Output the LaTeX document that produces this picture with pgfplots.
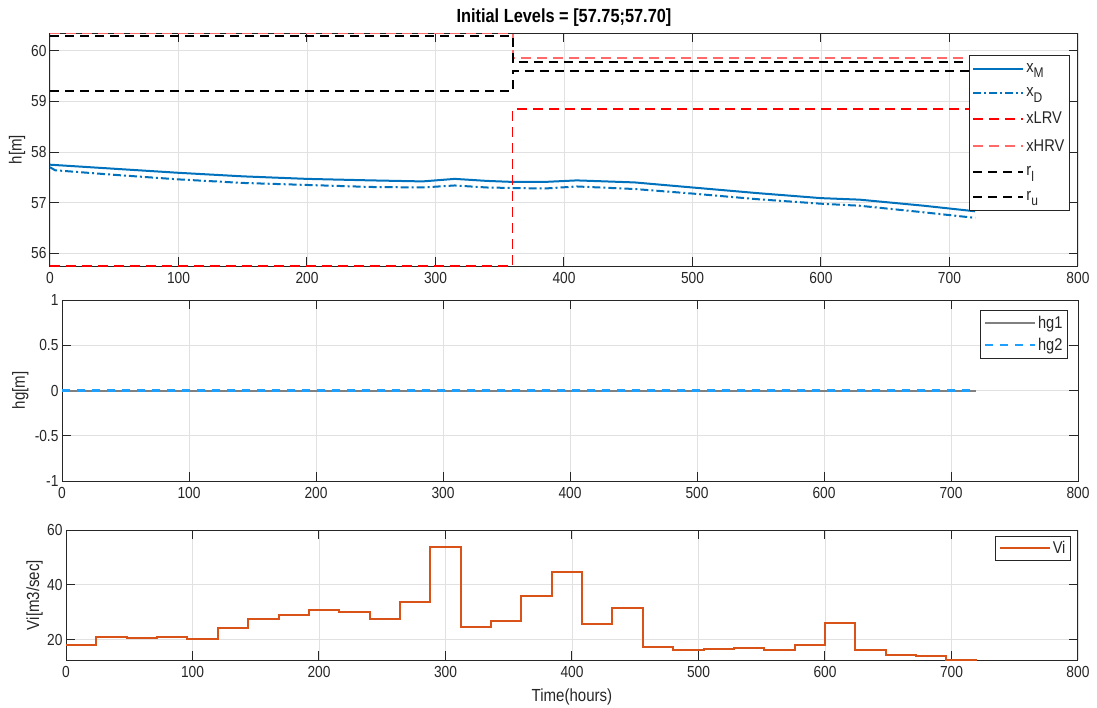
\documentclass[border=0pt]{standalone}
\usepackage{fontspec}
\setmainfont{Liberation Sans}[FakeStretch=0.86]
\usepackage{pgfplots}
\pgfplotsset{compat=1.18}
\definecolor{mblue}{RGB}{0,114,189}
\definecolor{lred}{RGB}{255,105,105}
\definecolor{hgblue}{RGB}{30,160,255}
\definecolor{vio}{RGB}{217,83,25}
\definecolor{gridc}{RGB}{225,225,225}
\definecolor{framec}{RGB}{38,38,38}
\pgfplotsset{
 mstyle/.style={
  scale only axis, anchor=north west,
  xmin=0,xmax=800, xtick={0,100,...,800},
  grid=major, major grid style={gridc, line width=0.8pt},
  axis line style={framec, line width=1pt},
  tick style={framec, line width=1pt},
  major tick length=9pt,
  tick align=inside,
  /pgf/number format/assume math mode=true,
  ticklabel style={font=\fontsize{16}{18}\selectfont, text=black!85},
  xticklabel style={yshift=-3pt},
  label style={font=\fontsize{17.5}{20}\selectfont, text=black!85},
  legend style={draw=framec, fill=white, line width=0.8pt, font=\fontsize{17}{19}\selectfont, inner sep=3pt, text=black!85},
  legend cell align=left,
  legend image code/.code={\draw[mark repeat=2,mark phase=2,##1] plot coordinates {(0pt,0pt) (25pt,0pt) (50pt,0pt)};},
 }
}
\newcommand{\sub}[1]{\raisebox{-0.6ex}{\fontsize{14}{16}\selectfont #1}}
\begin{document}
\begin{tikzpicture}
\useasboundingbox (0,0) rectangle (1097pt,-707pt);
% ---------- top ----------
\begin{axis}[mstyle, at={(50pt,-33pt)}, width=1028pt, height=233pt,
  ymin=55.75, ymax=60.35, ytick={56,57,58,59,60},
  title={Initial Levels = [57.75;57.70]},
  title style={font=\bfseries\fontsize{19}{22}\selectfont, at={(axis description cs:0.5,1)}, anchor=south, yshift=-3pt},
  ylabel={h[m]},
  ylabel style={at={(axis description cs:-0.032,0.5)}, anchor=center},
  legend style={at={(axis description cs:0.992,0.906)}, anchor=north east, row sep=10pt, inner ysep=6pt},
]
\addplot[mblue, line width=2pt] coordinates {(0,57.75) (50,57.67) (100,57.59) (150,57.52) (200,57.47) (250,57.44) (290,57.42) (315,57.47) (340,57.43) (360,57.41) (385,57.41) (410,57.44) (455,57.40) (500,57.30) (550,57.19) (600,57.09) (630,57.06) (680,56.94) (720,56.83)};
\addlegendentry{x\sub{M}}
\addplot[mblue, line width=2pt, dash pattern=on 8pt off 3pt on 2pt off 3pt] coordinates {(0,57.70) (4,57.64) (50,57.55) (100,57.46) (150,57.39) (200,57.35) (250,57.31) (290,57.30) (315,57.34) (340,57.30) (360,57.29) (385,57.28) (410,57.32) (455,57.27) (500,57.18) (550,57.07) (600,56.98) (630,56.94) (680,56.81) (720,56.70)};
\addlegendentry{x\sub{D}}
\addplot[red, line width=1.3pt, dash pattern=on 10pt off 6pt] coordinates {(0,55.75) (360,55.75) (360,58.85) (720,58.85)};
\addlegendentry{xLRV}
\addplot[lred, line width=2pt, dash pattern=on 10pt off 6pt] coordinates {(0,60.35) (360,60.35) (360,59.85) (720,59.85)};
\addlegendentry{xHRV}
\addplot[black, line width=2pt, dash pattern=on 9pt off 6pt] coordinates {(0,59.2) (360,59.2) (360,59.6) (720,59.6)};
\addlegendentry{r\sub{l}}
\addplot[black, line width=2pt, dash pattern=on 9pt off 6pt] coordinates {(0,60.3) (360,60.3) (360,59.78) (720,59.78)};
\addlegendentry{r\sub{u}}
\end{axis}
% ---------- middle ----------
\begin{axis}[mstyle, at={(62pt,-300pt)}, width=1016pt, height=181pt,
  ymin=-1, ymax=1, ytick={-1,-0.5,0,0.5,1},
  yticklabel style={/pgf/number format/fixed},
  ylabel={hg[m]},
  ylabel style={at={(axis description cs:-0.041,0.5)}, anchor=center},
  legend style={at={(axis description cs:0.99,0.945)}, anchor=north east, row sep=4pt, inner ysep=4pt},
]
\addplot[gray, line width=2pt] coordinates {(0,0) (720,0)};
\addlegendentry{hg1}
\addplot[hgblue, line width=2.2pt, dash pattern=on 8pt off 7pt] coordinates {(0,0) (720,0)};
\addlegendentry{hg2}
\end{axis}
% ---------- bottom ----------
\begin{axis}[mstyle, at={(66pt,-530pt)}, width=1012pt, height=130pt,
  ymin=12.6, ymax=60, ytick={20,40,60},
  ylabel={Vi[m3/sec]},
  ylabel style={at={(axis description cs:-0.031,0.5)}, anchor=center},
  xlabel={Time(hours)},
  xlabel style={at={(axis description cs:0.5,-0.285)}, anchor=center},
  legend style={at={(axis description cs:0.993,0.954)}, anchor=north east},
]
\addplot[vio, line width=2pt, const plot] coordinates {(0,18.1) (24,21.1) (48,20.8) (72,21.1) (96,20.2) (120,24.3) (144,27.4) (168,29.1) (192,30.8) (216,30.0) (240,27.4) (264,33.9) (288,53.7) (312,24.7) (336,26.8) (360,36.1) (384,44.8) (408,25.6) (432,31.4) (456,17.4) (480,16.3) (504,16.5) (528,17.1) (552,16.4) (576,18.2) (600,26.2) (624,16.4) (648,14.4) (672,13.9) (696,12.6) (720,12.6)};
\addlegendentry{Vi}
\end{axis}
\end{tikzpicture}
\end{document}
